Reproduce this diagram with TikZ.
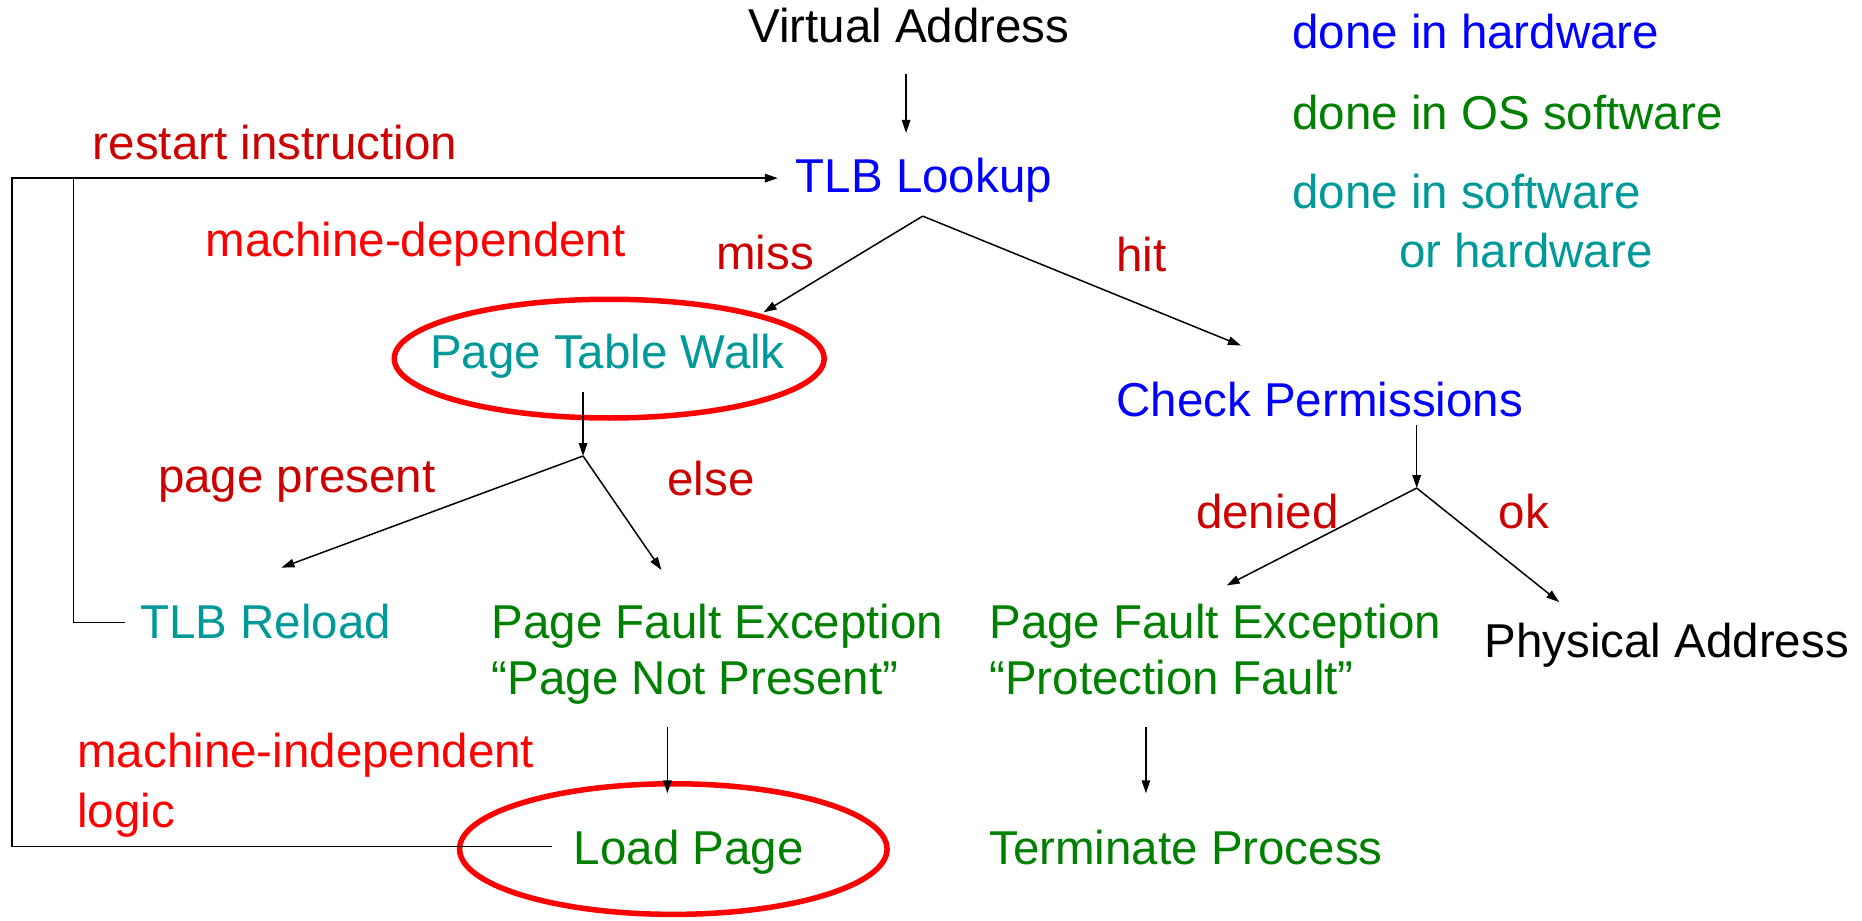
\documentclass[tikz,border=0pt]{standalone}
\usepackage{fontspec}
\setmainfont{Liberation Sans}
\usetikzlibrary{arrows.meta}
\definecolor{hwblue}{HTML}{0000FF}
\definecolor{osgreen}{HTML}{008000}
\definecolor{swteal}{HTML}{009999}
\definecolor{lblred}{HTML}{CC0000}
\definecolor{brightred}{HTML}{FF0000}
\begin{document}
\begin{tikzpicture}[x=1.1875pt,y=-1.1875pt,
  txt/.style={anchor=base west,inner sep=0pt,font=\fontsize{47.5}{56}\selectfont},
  hw/.style={txt,text=hwblue},
  os/.style={txt,text=osgreen},
  sw/.style={txt,text=swteal},
  lbl/.style={txt,text=lblred},
  note/.style={txt,text=brightred},
  plain/.style={txt,text=black},
  conn/.style={line width=1.5pt,draw=black},
  arr/.style={conn,-{Triangle[length=13pt,width=8.5pt]}},
  ring/.style={draw=brightred,line width=5.5pt}]
\useasboundingbox (0,0) rectangle (1568,775);

% legend
\node[hw] (leghw) at (1088,41) {done in hardware};
\node[os] (legos) at (1088,109) {done in OS software};
\node[sw] (legsw) at (1088,176) {done in software};
\node[sw] (legor) at (1178,225) {or hardware};

% main steps
\node[plain] (va) at (630,36) {Virtual Address};
\node[hw] (tlb) at (670,162) {TLB Lookup};
\node[sw] (ptw) at (362,310) {Page Table Walk};
\node[hw] (cp) at (940,351) {Check Permissions};
\node[sw] (tlbr) at (118,538) {TLB Reload};
\node[os,align=left] (pfe1) at (414,585) {Page Fault Exception\\“Page Not Present”};
\node[os,align=left] (pfe2) at (833,585) {Page Fault Exception\\“Protection Fault”};
\node[plain] (pa) at (1250,554) {Physical Address};
\node[os] (lp) at (483,728) {Load Page};
\node[os] (tp) at (833,728) {Terminate Process};

% branch labels
\node[lbl] (restart) at (78,134) {restart instruction};
\node[lbl] (miss) at (603,227) {miss};
\node[lbl] (hit) at (940,229) {hit};
\node[lbl] (pp) at (133,415) {page present};
\node[lbl] (else) at (562,417) {else};
\node[lbl] (denied) at (1007,445) {denied};
\node[lbl] (ok) at (1262,445) {ok};
\node[note] (mdep) at (173,216) {machine-dependent};
\node[note,align=left,font=\fontsize{47.5}{60}\selectfont] (mind) at (65,697) {machine-independent\\logic};

% highlighted steps
\draw[ring] (513,302) ellipse (181 and 50);
\draw[ring] (567,715) ellipse (180 and 55);

% connector end points
\coordinate (vaout) at (763,62);
\coordinate (tlbin) at (763,112);
\coordinate (tlbfork) at (777,182);
\coordinate (ptwin) at (643,263);
\coordinate (cpin) at (1045,291);
\coordinate (ptwout) at (491,330);
\coordinate (ptwfork) at (491,384);
\coordinate (tlbrin) at (237,478);
\coordinate (pfeain) at (557,480);
\coordinate (cpout) at (1193,358);
\coordinate (cpfork) at (1193,411);
\coordinate (pfebin) at (1033,493);
\coordinate (pain) at (1313,507);
\coordinate (pfeaout) at (562,612);
\coordinate (lpin) at (562,668);
\coordinate (pfebout) at (965,612);
\coordinate (tpin) at (965,668);
\coordinate (lpout) at (465,713);
\coordinate (tlbrout) at (105,524);
\coordinate (restartin) at (655,150);
\coordinate (outerbus) at (10,150);
\coordinate (innerbus) at (62,150);

% connectors
\draw[arr] (vaout) -- (tlbin);
\draw[arr] (tlbfork) -- (ptwin);
\draw[arr] (tlbfork) -- (cpin);
\draw[arr] (ptwout) -- (ptwfork);
\draw[arr] (ptwfork) -- (tlbrin);
\draw[arr] (ptwfork) -- (pfeain);
\draw[arr] (cpout) -- (cpfork);
\draw[arr] (cpfork) -- (pfebin);
\draw[arr] (cpfork) -- (pain);
\draw[arr] (pfeaout) -- (lpin);
\draw[arr] (pfebout) -- (tpin);
\draw[arr] (lpout) -| (outerbus) -- (restartin);
\draw[conn] (tlbrout) -| (innerbus);
\end{tikzpicture}
\end{document}
